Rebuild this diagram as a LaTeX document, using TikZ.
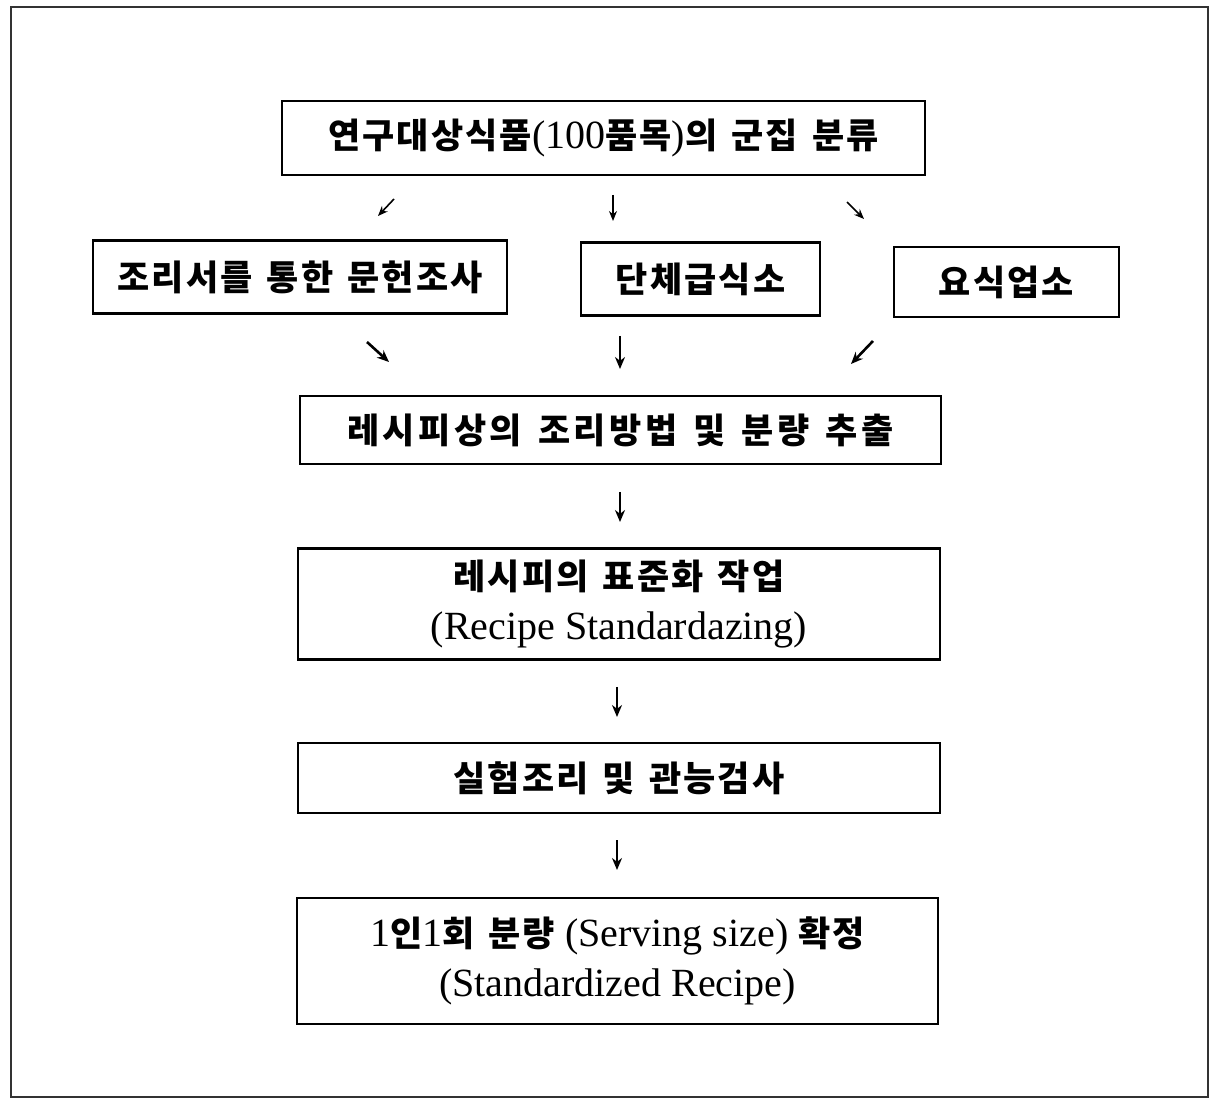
\documentclass[tikz,border=0pt]{standalone}
\usepackage{fontspec}
\setmainfont{Liberation Serif}
\newfontfamily\kr[LetterSpace=6,WordSpace=1.4]{Noto Sans CJK KR}
\usetikzlibrary{arrows.meta}
\tikzset{
  box/.style={draw, line width=1.2pt, inner sep=0pt, align=center,
    font=\fontsize{17.5}{25}\selectfont\bfseries},
  arr/.style={line width=1.3pt, -{Stealth[length=6pt,width=5pt]}},
  tarr/.style={line width=0.8pt, -{Stealth[length=5pt,width=4pt]}},
}
\newcommand{\lt}[1]{{\rmfamily\fontsize{20}{25}\selectfont\mdseries #1}}
\begin{document}
\begin{tikzpicture}[x=0.5pt,y=-0.5pt]
\useasboundingbox (0,0) rectangle (1222,1101);
\draw[line width=0.6pt, black!80] (11,7) rectangle (1208,1097);
% boxes
\node[box, minimum width=643*0.5pt, minimum height=74*0.5pt] (b1) at (603.5,138)
  {{\kr 연구대상식품}\lt{(100}{\kr 품목}\lt{)}{\kr 의 군집 분류}};
\node[box, minimum width=414*0.5pt, minimum height=73*0.5pt] (b2a) at (300,277)
  {\kr 조리서를 통한 문헌조사};
\node[box, minimum width=239*0.5pt, minimum height=73*0.5pt] (b2b) at (700.5,279)
  {\kr 단체급식소};
\node[box, minimum width=225*0.5pt, minimum height=70*0.5pt] (b2c) at (1006.5,282)
  {\kr 요식업소};
\node[box, minimum width=641*0.5pt, minimum height=68*0.5pt] (b3) at (620.5,430)
  {\kr\addfontfeature{LetterSpace=10} 레시피상의 조리방법 및 분량 추출};
\node[box, minimum width=642*0.5pt, minimum height=111*0.5pt] (b4) at (619,604)
  {{\kr 레시피의 표준화 작업}\\\lt{(Recipe Standardazing)}};
\node[box, minimum width=642*0.5pt, minimum height=70*0.5pt] (b5) at (619,778)
  {\kr 실험조리 및 관능검사};
\node[box, minimum width=641*0.5pt, minimum height=126*0.5pt] (b6) at (617.5,961)
  {\lt{1}{\kr 인}\lt{1}{\kr 회 분량}\lt{ (Serving size) }{\kr 확정}\\\lt{(Standardized Recipe)}};
% arrow coordinates
\coordinate (r1as) at (394,199); \coordinate (r1ae) at (378,216);
\coordinate (r1bs) at (613,195); \coordinate (r1be) at (613,221);
\coordinate (r1cs) at (847,202); \coordinate (r1ce) at (864,219);
\coordinate (r2as) at (367,342); \coordinate (r2ae) at (389,362);
\coordinate (r2bs) at (620,336); \coordinate (r2be) at (620,369);
\coordinate (r2cs) at (873,341); \coordinate (r2ce) at (851,364);
\coordinate (d1s) at (620,492); \coordinate (d1e) at (620,522);
\coordinate (d2s) at (617,687); \coordinate (d2e) at (617,717);
\coordinate (d3s) at (617,840); \coordinate (d3e) at (617,870);
\draw[tarr] (r1as) -- (r1ae);
\draw[tarr] (r1bs) -- (r1be);
\draw[tarr] (r1cs) -- (r1ce);
\draw[arr] (r2as) -- (r2ae);
\draw[arr] (r2bs) -- (r2be);
\draw[arr] (r2cs) -- (r2ce);
\draw[arr] (d1s) -- (d1e);
\draw[arr] (d2s) -- (d2e);
\draw[arr] (d3s) -- (d3e);
\end{tikzpicture}
\end{document}
